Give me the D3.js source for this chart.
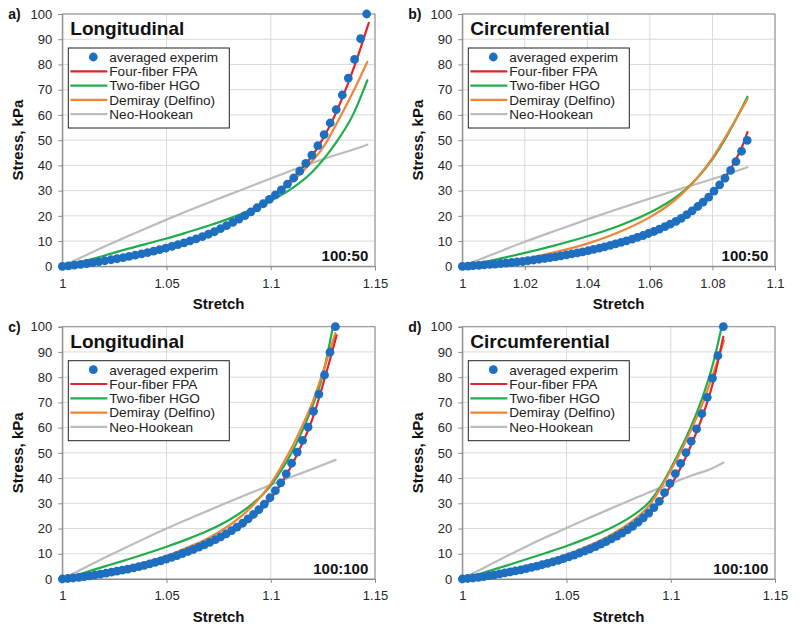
<!DOCTYPE html>
<html>
<head>
<meta charset="utf-8">
<script src="https://cdn.jsdelivr.net/npm/d3@7"></script>
<style>
  html, body { margin: 0; padding: 0; background: #fff; }
  svg { display: block; font-family: "Liberation Sans", Arial, sans-serif; }
</style>
</head>
<body>
<svg id="chart" width="800" height="630"></svg>
<script>
// ---------------- DATA ----------------
const yTicks = [0, 10, 20, 30, 40, 50, 60, 70, 80, 90, 100];
const xTicksWide = [1, 1.05, 1.1, 1.15];
const xTicksNarrow = [1, 1.02, 1.04, 1.06, 1.08, 1.1];
const seriesNames = ["averaged experim", "Four-fiber FPA", "Two-fiber HGO", "Demiray (Delfino)", "Neo-Hookean"];
const panelLetters = ["a)", "b)", "c)", "d)"];
const panelTitles = ["Longitudinal", "Circumferential", "Longitudinal", "Circumferential"];
const panelRatios = ["100:50", "100:50", "100:100", "100:100"];

// Panel a: Longitudinal 100:50
const expA = [[1.0000,0.0],[1.0029,0.2],[1.0058,0.5],[1.0088,0.8],[1.0117,1.1],[1.0146,1.45],[1.0175,1.8],[1.0204,2.2],[1.0234,2.6],[1.0263,3.0],[1.0292,3.45],[1.0321,3.9],[1.0350,4.4],[1.0380,4.9],[1.0409,5.45],[1.0438,6.0],[1.0467,6.6],[1.0496,7.2],[1.0526,7.9],[1.0555,8.6],[1.0584,9.3],[1.0613,10.1],[1.0642,10.9],[1.0672,11.8],[1.0701,12.7],[1.0730,13.7],[1.0759,14.9],[1.0788,16.1],[1.0818,17.4],[1.0847,18.7],[1.0876,20.1],[1.0905,21.6],[1.0934,23.2],[1.0964,24.8],[1.0993,26.5],[1.1022,28.3],[1.1051,30.3],[1.1080,32.6],[1.1110,35.0],[1.1139,37.7],[1.1168,40.8],[1.1197,44.1],[1.1226,47.8],[1.1256,52.2],[1.1285,56.8],[1.1314,62.1],[1.1343,67.9],[1.1372,74.6],[1.1402,82.0],[1.1431,90.2],[1.1460,100.0]];
const fpaA = [[1,0],[1.01,0.9],[1.02,2.1],[1.03,3.5],[1.04,5.2],[1.05,7.4],[1.06,9.9],[1.07,13.0],[1.08,16.8],[1.09,21.6],[1.10,27.2],[1.11,34.6],[1.12,44.0],[1.13,58.5],[1.14,79.0],[1.147,96.5]];
const hgoA = [[1,0],[1.01,2.0],[1.02,4.2],[1.03,6.6],[1.04,8.8],[1.05,11.0],[1.06,13.5],[1.07,16.1],[1.08,18.9],[1.09,22.2],[1.10,26.0],[1.11,30.8],[1.12,37.5],[1.13,47.5],[1.14,61.0],[1.1463,73.7]];
const demA = [[1,0],[1.01,0.9],[1.02,2.2],[1.03,3.7],[1.04,5.5],[1.05,7.6],[1.06,10.1],[1.07,13.1],[1.08,16.9],[1.09,21.6],[1.10,27.0],[1.11,33.3],[1.1172,39.3],[1.1252,47.2],[1.1332,59.1],[1.14,70.0],[1.1463,81.0]];
const neoA = [[1,0],[1.01,3.9],[1.02,7.7],[1.03,11.4],[1.04,15.0],[1.05,18.5],[1.06,21.9],[1.07,25.2],[1.08,28.4],[1.09,31.6],[1.10,34.8],[1.11,38.0],[1.12,41.0],[1.13,43.8],[1.14,46.4],[1.1463,48.2]];

// Panel b: Circumferential 100:50
const expB = [[1.0000,0.0],[1.0018,0.1],[1.0035,0.3],[1.0053,0.4],[1.0070,0.6],[1.0088,0.75],[1.0105,0.9],[1.0123,1.1],[1.0140,1.3],[1.0158,1.5],[1.0175,1.7],[1.0193,1.9],[1.0210,2.2],[1.0228,2.5],[1.0245,2.8],[1.0263,3.1],[1.0280,3.4],[1.0298,3.7],[1.0315,4.1],[1.0333,4.5],[1.0350,4.9],[1.0368,5.3],[1.0385,5.7],[1.0403,6.2],[1.0420,6.7],[1.0438,7.2],[1.0455,7.7],[1.0473,8.3],[1.0490,8.9],[1.0508,9.5],[1.0525,10.1],[1.0543,10.8],[1.0560,11.5],[1.0578,12.2],[1.0595,13.0],[1.0613,13.8],[1.0630,14.7],[1.0648,15.7],[1.0665,16.7],[1.0683,17.8],[1.0700,19.0],[1.0718,20.5],[1.0735,22.0],[1.0753,23.7],[1.0770,25.4],[1.0788,27.4],[1.0805,29.8],[1.0823,32.3],[1.0840,34.9],[1.0858,38.0],[1.0875,41.5],[1.0893,45.6],[1.0911,49.9]];
const fpaB = [[1,0],[1.01,0.85],[1.02,2.0],[1.03,3.8],[1.04,6.2],[1.05,9.3],[1.06,13.3],[1.065,16.2],[1.07,19.2],[1.075,23.3],[1.08,29.0],[1.085,37.0],[1.0875,42.3],[1.0895,47.5],[1.0912,53.2]];
const hgoB = [[1,0],[1.01,2.5],[1.02,5.3],[1.03,8.4],[1.04,11.9],[1.05,16.0],[1.06,21.3],[1.065,24.7],[1.07,29.0],[1.075,34.8],[1.08,42.5],[1.085,52.5],[1.0912,67.2]];
const demB = [[1,0],[1.01,1.2],[1.02,3.0],[1.03,5.7],[1.04,9.0],[1.05,13.5],[1.06,19.5],[1.065,23.4],[1.07,28.4],[1.075,34.9],[1.08,43.0],[1.085,53.0],[1.0912,66.3]];
const neoB = [[1,0],[1.01,4.9],[1.02,9.7],[1.03,14.2],[1.04,18.6],[1.05,22.8],[1.06,26.9],[1.07,30.8],[1.08,34.6],[1.0912,39.3]];

// Panel c: Longitudinal 100:100
const expC = [[1.0000,0.0],[1.0026,0.2],[1.0052,0.4],[1.0079,0.65],[1.0105,0.95],[1.0131,1.25],[1.0157,1.6],[1.0183,1.95],[1.0210,2.3],[1.0236,2.7],[1.0262,3.1],[1.0288,3.5],[1.0314,3.95],[1.0341,4.4],[1.0367,4.9],[1.0393,5.4],[1.0419,6.0],[1.0445,6.6],[1.0472,7.2],[1.0498,7.9],[1.0524,8.6],[1.0550,9.3],[1.0576,10.1],[1.0603,10.9],[1.0629,11.7],[1.0655,12.6],[1.0681,13.5],[1.0707,14.5],[1.0734,15.6],[1.0760,16.7],[1.0786,17.9],[1.0812,19.2],[1.0838,20.6],[1.0865,22.1],[1.0891,23.8],[1.0917,25.6],[1.0943,27.5],[1.0969,29.7],[1.0996,32.2],[1.1022,35.0],[1.1048,38.1],[1.1074,41.7],[1.1100,45.9],[1.1127,50.3],[1.1153,54.9],[1.1179,60.2],[1.1205,66.4],[1.1231,73.3],[1.1258,80.9],[1.1284,89.9],[1.1310,100.0]];
const fpaC = [[1,0],[1.01,0.9],[1.02,2.2],[1.03,3.7],[1.04,5.6],[1.05,8.0],[1.06,10.8],[1.07,14.0],[1.08,18.0],[1.09,23.4],[1.10,31.8],[1.105,37.8],[1.11,45.0],[1.115,53.5],[1.12,63.5],[1.125,77.0],[1.1316,96.6]];
const hgoC = [[1,0],[1.01,2.4],[1.02,4.9],[1.03,7.4],[1.04,10.0],[1.05,12.8],[1.06,15.8],[1.07,19.2],[1.08,23.4],[1.09,29.0],[1.10,37.0],[1.105,43.0],[1.11,50.0],[1.115,58.5],[1.12,68.5],[1.125,81.0],[1.1297,99.5]];
const demC = [[1,0],[1.01,1.0],[1.02,2.5],[1.03,4.3],[1.04,6.5],[1.05,9.2],[1.06,12.5],[1.07,16.2],[1.08,21.2],[1.09,28.0],[1.10,37.8],[1.105,44.5],[1.11,52.0],[1.115,60.5],[1.12,70.0],[1.125,82.0],[1.131,97.5]];
const neoC = [[1,0],[1.01,4.2],[1.02,8.3],[1.03,12.3],[1.04,16.2],[1.05,20.0],[1.06,23.6],[1.07,27.1],[1.08,30.6],[1.09,34.0],[1.10,37.3],[1.11,40.5],[1.12,43.6],[1.1311,47.2]];

// Panel d: Circumferential 100:100
const expD = [[1.0000,0.0],[1.0026,0.2],[1.0051,0.4],[1.0077,0.65],[1.0102,0.95],[1.0128,1.3],[1.0153,1.65],[1.0179,2.0],[1.0204,2.4],[1.0230,2.8],[1.0255,3.2],[1.0281,3.65],[1.0306,4.1],[1.0332,4.6],[1.0358,5.1],[1.0383,5.65],[1.0409,6.2],[1.0434,6.8],[1.0460,7.4],[1.0485,8.1],[1.0511,8.8],[1.0536,9.5],[1.0562,10.3],[1.0588,11.1],[1.0613,11.9],[1.0639,12.8],[1.0664,13.8],[1.0690,14.8],[1.0715,15.9],[1.0741,17.0],[1.0766,18.2],[1.0792,19.5],[1.0817,20.9],[1.0843,22.5],[1.0868,24.2],[1.0894,26.1],[1.0919,28.3],[1.0945,30.8],[1.0970,34.2],[1.0996,37.9],[1.1022,41.8],[1.1047,45.8],[1.1073,50.1],[1.1098,54.6],[1.1124,59.5],[1.1149,65.5],[1.1175,72.0],[1.1200,79.6],[1.1226,88.5],[1.1252,100.0]];
const fpaD = [[1,0],[1.01,0.95],[1.02,2.3],[1.03,4.0],[1.04,6.0],[1.05,8.5],[1.06,11.5],[1.07,15.0],[1.08,19.6],[1.09,26.0],[1.095,30.8],[1.10,37.0],[1.105,44.5],[1.11,53.5],[1.115,64.0],[1.12,77.0],[1.1252,96.0]];
const hgoD = [[1,0],[1.01,2.5],[1.02,5.0],[1.03,7.6],[1.04,10.3],[1.05,13.1],[1.06,16.2],[1.07,19.7],[1.08,24.2],[1.09,30.8],[1.095,36.5],[1.10,43.8],[1.105,52.0],[1.11,61.0],[1.115,71.5],[1.12,84.5],[1.1243,99.5]];
const demD = [[1,0],[1.01,1.1],[1.02,2.7],[1.03,4.7],[1.04,7.0],[1.05,9.7],[1.06,13.0],[1.07,16.9],[1.08,22.0],[1.09,29.5],[1.095,35.8],[1.10,43.0],[1.105,50.8],[1.11,59.5],[1.115,69.0],[1.12,80.5],[1.1255,94.5]];
const neoD = [[1,0],[1.01,4.3],[1.02,8.5],[1.03,12.6],[1.04,16.5],[1.05,20.2],[1.06,23.9],[1.07,27.5],[1.08,31.0],[1.09,34.5],[1.10,37.8],[1.11,41.0],[1.12,43.9],[1.1252,46.1]];

// ---------------- STYLE / LAYOUT ----------------
const COL = { exp: "#1f6fc0", fpa: "#e1262b", hgo: "#22ad4c", dem: "#ee8537", neo: "#bcbcbc" };
const panels = [
  { left: 62.3, top: 14, xMax: 1.15, xTicks: xTicksWide, exp: expA, fpa: fpaA, hgo: hgoA, dem: demA, neo: neoA },
  { left: 462.3, top: 14, xMax: 1.1, xTicks: xTicksNarrow, exp: expB, fpa: fpaB, hgo: hgoB, dem: demB, neo: neoB },
  { left: 62.3, top: 326.7, xMax: 1.15, xTicks: xTicksWide, exp: expC, fpa: fpaC, hgo: hgoC, dem: demC, neo: neoC },
  { left: 462.3, top: 326.7, xMax: 1.15, xTicks: xTicksWide, exp: expD, fpa: fpaD, hgo: hgoD, dem: demD, neo: neoD }
];
const PW = 312.7, PH = 252.3;

const svg = d3.select("#chart");

panels.forEach((p, idx) => {
  const g = svg.append("g").attr("transform", `translate(${p.left},${p.top})`);
  const x = d3.scaleLinear().domain([1, p.xMax]).range([0, PW]);
  const y = d3.scaleLinear().domain([0, 100]).range([PH, 0]);

  // gridlines
  g.append("g").selectAll("line").data(yTicks.slice(1)).join("line")
    .attr("x1", 0).attr("x2", PW).attr("y1", d => y(d)).attr("y2", d => y(d))
    .attr("stroke", "#d9d9d9").attr("stroke-width", 1);
  g.append("g").selectAll("line").data(p.xTicks.slice(1)).join("line")
    .attr("y1", 0).attr("y2", PH).attr("x1", d => x(d)).attr("x2", d => x(d))
    .attr("stroke", "#d9d9d9").attr("stroke-width", 1);

  // frame (top/right)
  g.append("rect").attr("x", 0).attr("y", 0).attr("width", PW).attr("height", PH)
    .attr("fill", "none").attr("stroke", "#8a8a8a").attr("stroke-width", 1);

  // axes
  const fmt = d => String(+d.toFixed(2));
  const yAxis = g.append("g").call(d3.axisLeft(y).tickValues(yTicks).tickSize(4).tickPadding(6));
  const xAxis = g.append("g").attr("transform", `translate(0,${PH})`)
    .call(d3.axisBottom(x).tickValues(p.xTicks).tickFormat(fmt).tickSize(4).tickPadding(8));
  [yAxis, xAxis].forEach(a => {
    a.select(".domain").attr("stroke", "#8a8a8a");
    a.selectAll(".tick line").attr("stroke", "#8a8a8a");
    a.selectAll("text").attr("font-size", 13).attr("fill", "#262626")
      .attr("font-family", "'Liberation Sans', Arial, sans-serif");
  });

  // model curves
  const line = d3.line().x(d => x(d[0])).y(d => y(d[1])).curve(d3.curveMonotoneX);
  [["neo", p.neo], ["hgo", p.hgo], ["dem", p.dem], ["fpa", p.fpa]].forEach(([k, data]) => {
    g.append("path").datum(data).attr("d", line)
      .attr("fill", "none").attr("stroke", COL[k]).attr("stroke-width", 2.2)
      .attr("stroke-linejoin", "round").attr("stroke-linecap", "round");
  });

  // experimental dots
  g.append("g").selectAll("circle").data(p.exp).join("circle")
    .attr("cx", d => x(d[0])).attr("cy", d => y(d[1])).attr("r", 4.4)
    .attr("fill", COL.exp);

  // title
  g.append("text").attr("x", 8).attr("y", 21).text(panelTitles[idx])
    .attr("font-size", 19).attr("font-weight", "bold").attr("fill", "#111");

  // ratio label
  g.append("text").attr("x", 306).attr("y", PH - 5).attr("text-anchor", "end")
    .text(panelRatios[idx]).attr("font-size", 15).attr("font-weight", "bold").attr("fill", "#111");

  // legend
  const lg = g.append("g").attr("transform", "translate(6,34)");
  lg.append("rect").attr("x", 0).attr("y", 0).attr("width", 161).attr("height", 80)
    .attr("fill", "#fff").attr("stroke", "#222").attr("stroke-width", 1);
  const keys = ["exp", "fpa", "hgo", "dem", "neo"];
  keys.forEach((k, i) => {
    const ry = 9 + i * 14.3;
    if (k === "exp") {
      lg.append("circle").attr("cx", 25).attr("cy", ry).attr("r", 4.4).attr("fill", COL.exp);
    } else {
      lg.append("line").attr("x1", 2).attr("x2", 39).attr("y1", ry).attr("y2", ry)
        .attr("stroke", COL[k]).attr("stroke-width", 2.2);
    }
    lg.append("text").attr("x", 41).attr("y", ry).attr("dy", "0.36em")
      .text(seriesNames[i]).attr("font-size", 13.6).attr("fill", "#222");
  });

  // axis titles
  g.append("text").attr("x", PW / 2).attr("y", PH + 43).attr("text-anchor", "middle")
    .text("Stretch").attr("font-size", 15).attr("font-weight", "bold").attr("fill", "#111");
  g.append("text").attr("transform", `translate(-39,${PH / 2}) rotate(-90)`)
    .attr("text-anchor", "middle").text("Stress, kPa")
    .attr("font-size", 15).attr("font-weight", "bold").attr("fill", "#111");

  // panel letter
  g.append("text").attr("x", -54).attr("y", 5).text(panelLetters[idx])
    .attr("font-size", 14).attr("font-weight", "bold").attr("fill", "#111");
});
</script>
</body>
</html>
